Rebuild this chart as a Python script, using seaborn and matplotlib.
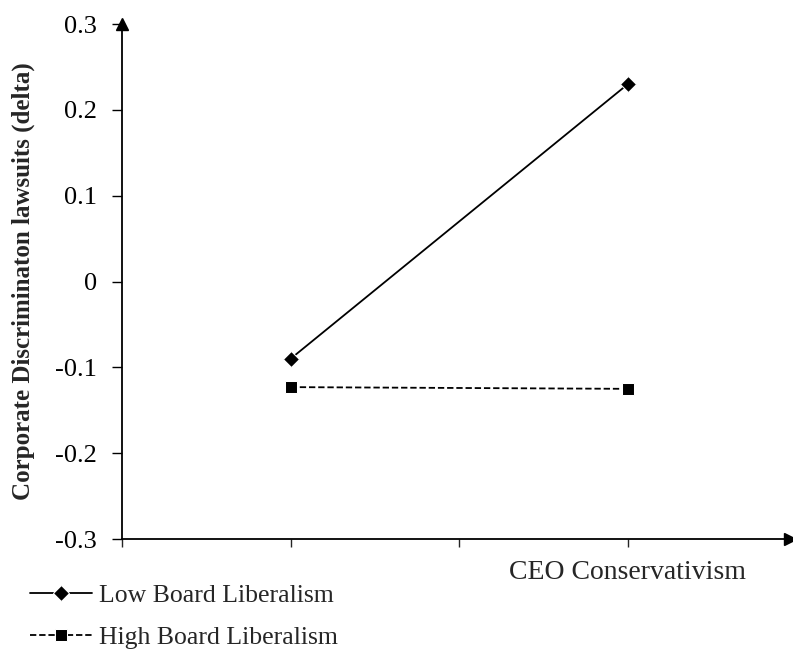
import pandas as pd
import matplotlib
matplotlib.use('Agg')
import matplotlib.pyplot as plt
import seaborn as sns

# ============================================================================
# DATA
# ============================================================================
series = ['Low Board Liberalism', 'High Board Liberalism']
x_pos = [1, 3]
low_vals = [-0.090, 0.230]
high_vals = [-0.123, -0.125]
y_ticks = [-0.3, -0.2, -0.1, 0, 0.1, 0.2, 0.3]
y_ticklabels = ['-0.3', '-0.2', '-0.1', '0', '0.1', '0.2', '0.3']

df = pd.DataFrame({
    'x': x_pos + x_pos,
    'value': low_vals + high_vals,
    'series': [series[0]] * 2 + [series[1]] * 2,
})

# ============================================================================
# PLOT
# ============================================================================
sns.set_style('white')
plt.rcParams['font.family'] = ['Liberation Serif', 'DejaVu Serif']
plt.rcParams['axes.unicode_minus'] = False

fig = plt.figure(figsize=(7.93, 6.51), dpi=100)
ax = fig.add_axes([0.1538, 0.172, 0.842, 0.791])

sns.lineplot(data=df, x='x', y='value', hue='series', style='series',
             palette=['black', 'black'], markers={series[0]: 'D', series[1]: 's'},
             dashes={series[0]: '', series[1]: (3.5, 1.6)}, markersize=8.5,
             linewidth=1.3, ax=ax, legend=True)

ax.set_xlim(0, 3.96)
ax.set_ylim(-0.3, 0.3)
ax.set_yticks(y_ticks)
ax.set_yticklabels(y_ticklabels, fontsize=19)
ax.set_xticks([0, 1, 2, 3])
ax.set_xticklabels([])
ax.tick_params(axis='y', direction='out', length=7, width=1, pad=11, left=True, colors='black')
ax.tick_params(axis='x', direction='out', length=6, width=1, bottom=True)

for side in ['top', 'right']:
    ax.spines[side].set_visible(False)
for side in ['left', 'bottom']:
    ax.spines[side].set_color('black')
    ax.spines[side].set_linewidth(1.3)

# arrow heads on axes
ax.plot(0, 1.0, marker='^', color='black', markersize=8, transform=ax.transAxes, clip_on=False)
ax.plot(1.0, 0, marker='>', color='black', markersize=8, transform=ax.transAxes, clip_on=False)

ax.set_ylabel('Corporate Discriminaton lawsuits (delta)', fontsize=18, fontweight='bold')
ax.yaxis.set_label_coords(-0.130, 0.5)
ax.set_xlabel('')
ax.text(3, -0.3385, 'CEO Conservativism', ha='center', va='center', fontsize=20)

handles, labels = ax.get_legend_handles_labels()
ax.get_legend().remove()
fig.legend(handles, labels, loc='upper left', bbox_to_anchor=(0.025, 0.119), frameon=False,
           fontsize=18.5, handlelength=2.4, handletextpad=0.3, labelspacing=0.76, borderaxespad=0)

plt.savefig('out.png', dpi=100)
